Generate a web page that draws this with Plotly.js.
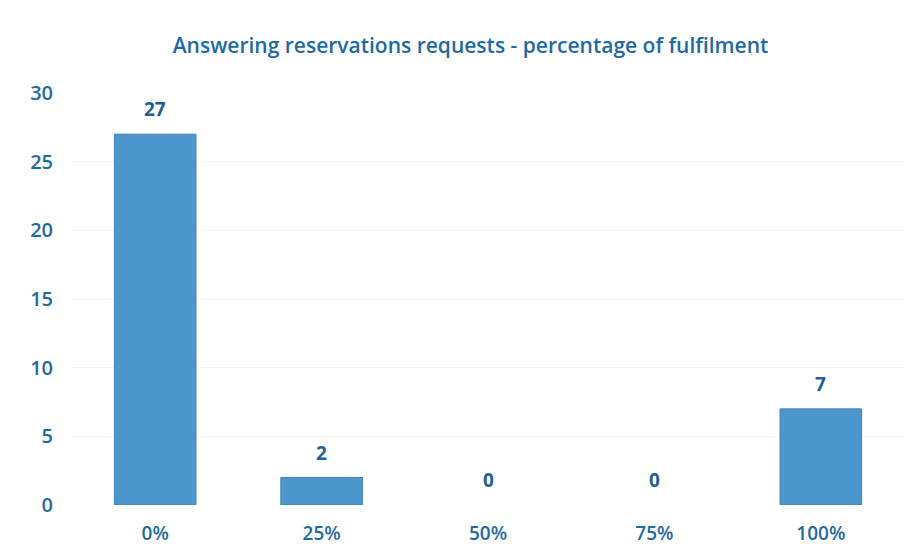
<!DOCTYPE html>
<html>
<head>
<meta charset="utf-8">
<script src="https://cdn.plot.ly/plotly-3.0.1.min.js"></script>
<style>html,body{margin:0;padding:0;background:#fff;}#chart{width:919px;height:559px;}</style>
</head>
<body>
<div id="chart"></div>
<script>
const categories = ["0%", "25%", "50%", "75%", "100%"];
const counts = [27, 2, 0, 0, 7];
const yTicks = [0, 5, 10, 15, 20, 25, 30];
const chartTitle = "Answering reservations requests - percentage of fulfilment";

const fontFam = "'Open Sans', sans-serif";
const trace = {
  type: "bar",
  x: categories,
  y: counts,
  marker: {color: "#4b96cc", line: {color: "#3c83ba", width: counts.map(v => v > 0 ? 1 : 0)}},
  width: 0.49,
  hoverinfo: "x+y"
};
const annotations = categories.map((c, i) => ({
  x: c, y: counts[i], xref: "x", yref: "y",
  text: String(counts[i]), showarrow: false,
  yanchor: "middle", yshift: 25,
  font: {family: fontFam, size: 19, color: "#245f94", weight: 700}
}));
const layout = {
  width: 919, height: 559,
  margin: {l: 72, r: 15, t: 93, b: 54},
  paper_bgcolor: "#ffffff", plot_bgcolor: "#ffffff",
  title: {text: chartTitle, x: 0.512, xanchor: "center", y: 0.918, yanchor: "middle", yref: "container",
          font: {family: fontFam, size: 21, color: "#1f6aa3", weight: 600}},
  showlegend: false,
  annotations: annotations,
  xaxis: {type: "category", showgrid: false, zeroline: false, showline: false, ticks: "",
          tickfont: {family: fontFam, size: 19, color: "#1f6aa3", weight: 600}, ticklabelstandoff: 15},
  yaxis: {range: [0, 30], tickvals: yTicks, showgrid: true, gridcolor: "#f4f4f4", zeroline: false,
          showline: false, ticks: "", tickfont: {family: fontFam, size: 20, color: "#1f6aa3", weight: 600}, ticklabelstandoff: 18}
};
Plotly.newPlot("chart", [trace], layout, {displayModeBar: false, staticPlot: true});
</script>
</body>
</html>
